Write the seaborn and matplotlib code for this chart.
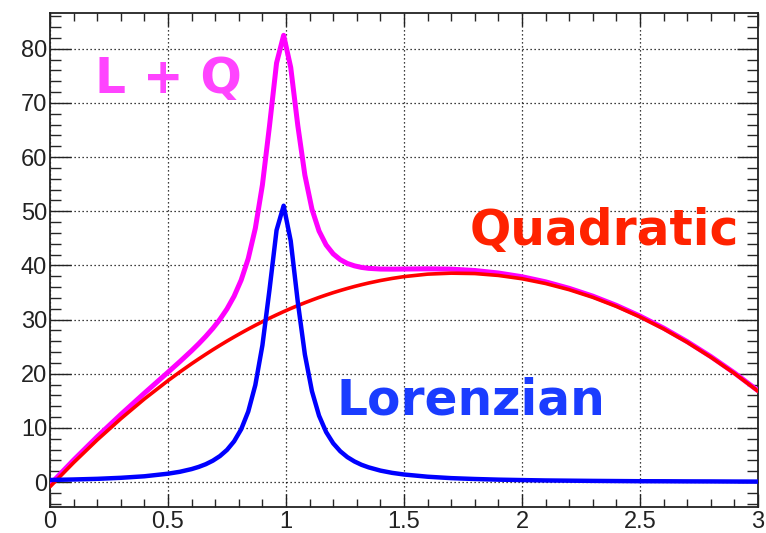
import matplotlib
matplotlib.use("Agg")
import matplotlib.pyplot as plt
from matplotlib.ticker import MultipleLocator
import seaborn as sns
import pandas as pd

# Sample positions along x (denser around the resonance peak)
x_vals = [0.00, 0.10, 0.20, 0.30, 0.40, 0.50, 0.55, 0.60, 0.63, 0.66, 0.69,
          0.72, 0.75, 0.78, 0.81, 0.84, 0.87, 0.90, 0.93, 0.96, 0.99, 1.02,
          1.05, 1.08, 1.11, 1.14, 1.17, 1.20, 1.23, 1.26, 1.29, 1.32, 1.35,
          1.40, 1.45, 1.50, 1.60, 1.70, 1.80, 1.90, 2.00, 2.10, 2.20, 2.30,
          2.40, 2.50, 2.60, 2.70, 2.80, 2.90, 3.00]

# Quadratic background
quadratic = [-0.86, 3.59, 7.78, 11.69, 15.35, 18.73, 20.32, 21.85, 22.73, 23.59,
             24.43, 25.24, 26.03, 26.79, 27.53, 28.25, 28.94, 29.61, 30.25, 30.87,
             31.47, 32.04, 32.59, 33.11, 33.61, 34.09, 34.54, 34.97, 35.37, 35.75,
             36.11, 36.44, 36.75, 37.21, 37.60, 37.93, 38.39, 38.57, 38.50, 38.15,
             37.54, 36.66, 35.52, 34.11, 32.43, 30.49, 28.28, 25.81, 23.06, 20.06,
             16.78]

# Lorentzian peak
lorentzian = [0.39, 0.48, 0.60, 0.79, 1.07, 1.55, 1.90, 2.40, 2.80, 3.30,
              3.95, 4.80, 5.94, 7.52, 9.75, 13.02, 17.91, 25.24, 35.49, 46.50,
              51.02, 44.52, 33.24, 23.55, 16.77, 12.26, 9.24, 7.16, 5.69, 4.61,
              3.81, 3.19, 2.72, 2.12, 1.70, 1.40, 0.99, 0.73, 0.57, 0.45,
              0.37, 0.30, 0.26, 0.22, 0.19, 0.16, 0.15, 0.13, 0.12, 0.10,
              0.09]

# Total: Lorentzian + Quadratic
total = [-0.47, 4.07, 8.38, 12.48, 16.42, 20.28, 22.23, 24.25, 25.53, 26.90,
         28.38, 30.04, 31.97, 34.31, 37.29, 41.27, 46.85, 54.85, 65.74, 77.37,
         82.48, 76.56, 65.83, 56.66, 50.38, 46.35, 43.78, 42.13, 41.06, 40.36,
         39.92, 39.63, 39.46, 39.33, 39.31, 39.33, 39.37, 39.31, 39.06, 38.60,
         37.91, 36.97, 35.77, 34.33, 32.62, 30.65, 28.43, 25.93, 23.18, 20.16,
         16.87]

df = pd.DataFrame({"x": x_vals, "Q": quadratic, "L": lorentzian, "LQ": total})

sns.set_style("white")
plt.rcParams["font.family"] = ["Liberation Sans", "DejaVu Sans"]

fig = plt.figure(figsize=(7.66, 5.33), dpi=100)
ax = fig.add_axes([50 / 766, 26 / 533, 708 / 766, 494 / 533])

sns.lineplot(data=df, x="x", y="LQ", color="#ff00ff", lw=3.6, sort=False,
             estimator=None, ax=ax, zorder=3)
sns.lineplot(data=df, x="x", y="Q", color="#ff0000", lw=2.6, sort=False,
             estimator=None, ax=ax, zorder=4)
sns.lineplot(data=df, x="x", y="L", color="#0000ff", lw=3.2, sort=False,
             estimator=None, ax=ax, zorder=4)

ax.set_xlim(0, 3)
ax.set_ylim(-4.6, 86.6)
ax.set_xlabel("")
ax.set_ylabel("")

ax.xaxis.set_major_locator(MultipleLocator(0.5))
ax.xaxis.set_minor_locator(MultipleLocator(0.1))
ax.yaxis.set_major_locator(MultipleLocator(10))
ax.yaxis.set_minor_locator(MultipleLocator(2))
ax.set_xticks([0, 0.5, 1, 1.5, 2, 2.5, 3])
ax.set_xticklabels(["0", "0.5", "1", "1.5", "2", "2.5", "3"])

ax.grid(True, which="major", color="black", linestyle=(0, (1, 2.2)), lw=0.9)
ax.tick_params(axis="x", which="major", direction="in", length=9.5, width=1,
               top=True, bottom=True, labelsize=17, pad=3, colors="#222222")
ax.tick_params(axis="x", which="minor", direction="in", length=5.5, width=1,
               top=True, bottom=True)
ax.tick_params(axis="y", which="major", direction="in", length=15, width=1,
               left=True, right=True, labelsize=17, pad=2, colors="#222222")
ax.tick_params(axis="y", which="minor", direction="in", length=8, width=1,
               left=True, right=True)
for s in ax.spines.values():
    s.set_visible(True)
    s.set_color("#222222")
    s.set_linewidth(1.3)

label_font = dict(family=["DejaVu Sans"], fontweight="bold",
                  va="baseline", ha="left", fontsize=35)
ax.text(0.19, 71.9, "L + Q", color="#ff44ff", **label_font)
ax.text(1.78, 43.8, "Quadratic", color="#ff2200", **label_font)
ax.text(1.212, 12.4, "Lorenzian", color="#1a3cff", **label_font)

fig.savefig("out.png", dpi=100)
